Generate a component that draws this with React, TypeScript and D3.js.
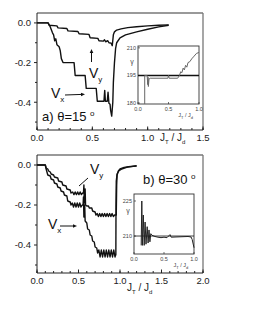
import React from 'react';
import * as d3 from 'd3';

type P = [number, number];

// ---- Panel a) theta = 15 deg ----
const topVy: P[] = [
  [0, 0], [0.10, 0], [0.11, -0.012], [0.18, -0.015], [0.19, -0.025], [0.27, -0.028], [0.28, -0.04],
  [0.37, -0.043], [0.38, -0.055], [0.47, -0.058], [0.48, -0.075], [0.55, -0.078], [0.56, -0.09],
  [0.60, -0.092], [0.61, -0.085], [0.62, -0.095], [0.64, -0.09], [0.65, -0.1], [0.67, -0.102],
  [0.68, -0.115], [0.69, -0.06], [0.70, -0.045], [0.72, -0.036], [0.76, -0.03], [0.82, -0.024],
  [0.9, -0.019], [1.0, -0.015], [1.1, -0.012], [1.19, -0.01],
];
const topVx: P[] = [
  [0, 0], [0.10, 0], [0.12, -0.02], [0.14, -0.05], [0.15, -0.06], [0.16, -0.09], [0.17, -0.08],
  [0.18, -0.11], [0.20, -0.12], [0.21, -0.14], [0.22, -0.18], [0.235, -0.2], [0.335, -0.2],
  [0.345, -0.265], [0.435, -0.265], [0.445, -0.33], [0.535, -0.33], [0.545, -0.395], [0.605, -0.395],
  [0.612, -0.34], [0.618, -0.395], [0.635, -0.395], [0.642, -0.35], [0.65, -0.405], [0.66, -0.41],
  [0.665, -0.44], [0.675, -0.47], [0.685, -0.40], [0.69, -0.3], [0.70, -0.2], [0.71, -0.13],
  [0.72, -0.1], [0.75, -0.075], [0.8, -0.06], [0.9, -0.045], [1.0, -0.032], [1.1, -0.02], [1.19, -0.012],
];
// inset a): gamma vs JT/Jd
const insetAGamma: P[] = [
  [0.11, 179.5], [0.11, 195], [0.15, 195], [0.16, 190], [0.165, 194], [0.17, 189], [0.18, 193],
  [0.2, 193.5], [0.49, 193.5], [0.5, 195], [0.51, 193.5], [0.65, 193.5], [0.68, 195], [0.70, 197],
  [0.72, 196.5], [0.74, 199], [0.76, 198], [0.78, 200.5], [0.8, 199.5], [0.82, 202], [0.85, 202.5],
  [0.88, 204], [0.92, 205.5], [0.96, 207], [1.0, 207.5],
];
const insetARef = 195;

// ---- Panel b) theta = 30 deg ----
const botVy: P[] = [
  [0, 0], [0.10, 0], [0.11, -0.015], [0.13, -0.02], [0.14, -0.03], [0.16, -0.035], [0.17, -0.045],
  [0.20, -0.05], [0.21, -0.06], [0.25, -0.065], [0.26, -0.08], [0.30, -0.085], [0.31, -0.1],
  [0.35, -0.105], [0.36, -0.12], [0.40, -0.125], [0.41, -0.14],
  [0.43, -0.135], [0.445, -0.148], [0.46, -0.135], [0.475, -0.148], [0.49, -0.135], [0.505, -0.148],
  [0.52, -0.135], [0.535, -0.148], [0.55, -0.14],
  [0.56, -0.14], [0.565, -0.10], [0.57, -0.19], [0.58, -0.12], [0.585, -0.2], [0.6, -0.205],
  [0.62, -0.205], [0.63, -0.215], [0.66, -0.215], [0.67, -0.23], [0.70, -0.235], [0.71, -0.25],
  [0.725, -0.243], [0.74, -0.258], [0.755, -0.243], [0.77, -0.258], [0.785, -0.243], [0.80, -0.258],
  [0.815, -0.243], [0.83, -0.258], [0.845, -0.243], [0.86, -0.258], [0.875, -0.243], [0.89, -0.258],
  [0.905, -0.243], [0.92, -0.258], [0.935, -0.25], [0.955, -0.25],
  [0.96, -0.1], [0.965, -0.05], [0.98, -0.03], [1.0, -0.02], [1.05, -0.012], [1.1, -0.008], [1.2, -0.005],
];
const botVx: P[] = [
  [0, 0], [0.10, 0], [0.11, -0.02], [0.12, -0.035], [0.13, -0.05], [0.16, -0.055], [0.17, -0.07],
  [0.20, -0.075], [0.21, -0.09], [0.24, -0.095], [0.25, -0.11], [0.28, -0.115], [0.29, -0.13],
  [0.32, -0.135], [0.33, -0.15], [0.36, -0.155], [0.37, -0.18], [0.40, -0.185], [0.41, -0.2],
  [0.425, -0.19], [0.44, -0.21], [0.455, -0.19], [0.47, -0.21], [0.485, -0.19], [0.5, -0.21],
  [0.515, -0.19], [0.53, -0.21], [0.545, -0.2],
  [0.555, -0.2], [0.56, -0.16], [0.565, -0.26], [0.575, -0.2], [0.58, -0.28], [0.6, -0.29],
  [0.61, -0.32], [0.63, -0.325], [0.64, -0.35], [0.66, -0.355], [0.67, -0.38], [0.69, -0.385],
  [0.70, -0.41], [0.72, -0.415], [0.73, -0.44],
  [0.745, -0.425], [0.76, -0.46], [0.775, -0.425], [0.79, -0.46], [0.805, -0.425], [0.82, -0.46],
  [0.835, -0.425], [0.85, -0.46], [0.865, -0.425], [0.88, -0.46], [0.895, -0.425], [0.91, -0.46],
  [0.925, -0.425], [0.94, -0.46], [0.945, -0.45],
  [0.95, -0.45], [0.952, -0.2], [0.955, -0.08], [0.965, -0.045], [0.985, -0.03], [1.02, -0.02],
  [1.08, -0.012], [1.2, -0.004],
];
// inset b)
const insetBGamma: P[] = [
  [0.12, 206], [0.13, 225], [0.14, 206], [0.155, 219], [0.17, 206], [0.185, 216], [0.2, 206.5],
  [0.22, 214], [0.235, 207], [0.25, 212.6], [0.265, 207.5], [0.28, 211], [0.3, 210.3], [0.35, 209.8],
  [0.4, 209.5], [0.45, 209.3], [0.5, 209.5], [0.55, 209.3], [0.6, 210.6], [0.62, 209.5], [0.7, 209.6],
  [0.8, 209.7], [0.9, 209.8], [0.95, 209.6], [0.97, 208.5], [1.0, 205],
];
const insetBRef = 210;

// ticks
const yMajorTicks = [0, -0.2, -0.4];
const yMajorLabels = ['0.0', '-0.2', '-0.4'];
const yMinorTicks = [-0.1, -0.3, -0.5];
const topXTicks = [0, 0.5, 1.0, 1.5];
const topXLabels = ['0.0', '0.5', '1.0', '1.5'];
const botXTicks = [0, 0.5, 1.0, 1.5, 2.0];
const botXLabels = ['0.0', '0.5', '1.0', '1.5', '2.0'];
const insetXTicks = [0, 0.5, 1.0];
const insetXLabels = ['0.0', '0.5', '1.0'];
const insetAYTicks = [180, 195, 210];
const insetBYTicks = [210, 225];

const FONT = 'Liberation Sans, Arial, Helvetica, sans-serif';

function MainPanel(props: {
  left: number; right: number; top: number; bottom: number; xMax: number;
  vx: P[]; vy: P[]; xTicks: number[]; xLabels: string[]; skipLabel?: number;
}) {
  const { left, right, top, bottom, xMax, vx, vy, xTicks, xLabels } = props;
  const x = d3.scaleLinear().domain([0, xMax]).range([left, right]);
  const y = d3.scaleLinear().domain([-0.54, 0.05]).range([bottom, top]);
  const line = d3.line<P>().x(d => x(d[0])).y(d => y(d[1]));
  const minorX = d3.range(0, xMax + 1e-6, 0.1);
  return (
    <g>
      <line x1={left} y1={top} x2={right} y2={top} stroke="#777" strokeWidth={1.3} />
      <line x1={right} y1={top} x2={right} y2={bottom} stroke="#777" strokeWidth={1.3} />
      <line x1={left} y1={top} x2={left} y2={bottom} stroke="#222" strokeWidth={1} />
      <line x1={left} y1={bottom} x2={right} y2={bottom} stroke="#222" strokeWidth={1} />
      {yMajorTicks.map((t, i) => (
        <g key={'ym' + i}>
          <line x1={left - 3} x2={left} y1={y(t)} y2={y(t)} stroke="#222" />
          <text x={left - 6} y={y(t) + 3.3} fontSize={9.5} textAnchor="end" fill="#222" fontFamily={FONT}>{yMajorLabels[i]}</text>
        </g>
      ))}
      {yMinorTicks.map((t, i) => (
        <line key={'yn' + i} x1={left - 2} x2={left} y1={y(t)} y2={y(t)} stroke="#222" />
      ))}
      {minorX.map((t, i) => (
        <line key={'xn' + i} x1={x(t)} x2={x(t)} y1={bottom} y2={bottom - 2} stroke="#222" />
      ))}
      {xTicks.map((t, i) => (
        <g key={'xm' + i}>
          <line x1={x(t)} x2={x(t)} y1={bottom} y2={bottom - 3.5} stroke="#222" />
          <text x={x(t)} y={bottom + 11} fontSize={9.5} textAnchor="middle" fill="#222" fontFamily={FONT}>{xLabels[i]}</text>
        </g>
      ))}
      <path d={line(vx) || ''} fill="none" stroke="#111" strokeWidth={1.4} strokeLinejoin="round" />
      <path d={line(vy) || ''} fill="none" stroke="#111" strokeWidth={1.4} strokeLinejoin="round" />
    </g>
  );
}

function Inset(props: {
  left: number; right: number; top: number; bottom: number; yDomain: [number, number];
  data: P[]; ref0: number; yTicks: number[]; refWidth: number; color: string;
}) {
  const { left, right, top, bottom, yDomain, data, ref0, yTicks, refWidth, color } = props;
  const x = d3.scaleLinear().domain([0, 1]).range([left, right]);
  const y = d3.scaleLinear().domain(yDomain).range([bottom, top]);
  const line = d3.line<P>().x(d => x(d[0])).y(d => y(d[1]));
  return (
    <g>
      <rect x={left} y={top} width={right - left} height={bottom - top} fill="white" stroke="#333" strokeWidth={0.9} />
      {yTicks.map((t, i) => (
        <g key={'iy' + i}>
          <line x1={left} x2={left + 2} y1={y(t)} y2={y(t)} stroke="#333" strokeWidth={0.7} />
          <text x={left - 2} y={y(t) + 2} fontSize={5.5} textAnchor="end" fill="#444" fontFamily={FONT}>{String(t)}</text>
        </g>
      ))}
      {insetXTicks.map((t, i) => (
        <g key={'ix' + i}>
          <line x1={x(t)} x2={x(t)} y1={bottom} y2={bottom - 2} stroke="#333" strokeWidth={0.7} />
          <text x={x(t)} y={bottom + 6.5} fontSize={5.5} textAnchor="middle" fill="#444" fontFamily={FONT}>{insetXLabels[i]}</text>
        </g>
      ))}
      <text x={left - 6} y={y((yDomain[0] + yDomain[1]) / 2 + (yDomain[1] - yDomain[0]) * 0.22) + 2} fontSize={7} textAnchor="middle" fill="#444" fontFamily={FONT}>γ</text>
      <text x={x(0.78)} y={bottom + 13} fontSize={5.5} textAnchor="middle" fill="#444" fontFamily={FONT}>
        J<tspan dy={1.5} fontSize={4}>T</tspan><tspan dy={-1.5}> / J</tspan><tspan dy={1.5} fontSize={4}>d</tspan>
      </text>
      <line x1={left} x2={right} y1={y(ref0)} y2={y(ref0)} stroke="#111" strokeWidth={refWidth} />
      <path d={line(data) || ''} fill="none" stroke={color} strokeWidth={1} />
    </g>
  );
}

function Arrow({ x1, y1, x2, y2 }: { x1: number; y1: number; x2: number; y2: number }) {
  const a = Math.atan2(y2 - y1, x2 - x1);
  const L = 4, W = 1.8;
  const bx = x2 - L * Math.cos(a), by = y2 - L * Math.sin(a);
  const px = -Math.sin(a) * W, py = Math.cos(a) * W;
  return (
    <g>
      <line x1={x1} y1={y1} x2={bx} y2={by} stroke="#111" strokeWidth={1} />
      <polygon points={`${x2},${y2} ${bx + px},${by + py} ${bx - px},${by - py}`} fill="#111" />
    </g>
  );
}

function VLabel({ x, y, sub }: { x: number; y: number; sub: string }) {
  return (
    <text x={x} y={y} fontSize={14} fill="#111" fontFamily={FONT}>
      V<tspan dy={4} fontSize={8}>{sub}</tspan>
    </text>
  );
}

export default function App() {
  return (
    <svg width={255} height={330} style={{ position: 'absolute', left: 0, top: 0, background: 'white' }}>
      <rect x={0} y={0} width={255} height={330} fill="white" />
      {/* Panel a */}
      <MainPanel left={37} right={203} top={13} bottom={130} xMax={1.5} vx={topVx} vy={topVy}
        xTicks={topXTicks} xLabels={topXLabels} />
      <Inset left={138} right={199} top={46} bottom={104} yDomain={[179.5, 211]} data={insetAGamma}
        ref0={insetARef} yTicks={insetAYTicks} refWidth={1.5} color="#666" />
      <text x={160} y={141} fontSize={10} fill="#222" fontFamily={FONT}>
        J<tspan dy={3} fontSize={6}>T</tspan><tspan dy={-3}> / J</tspan><tspan dy={3} fontSize={6}>d</tspan>
      </text>
      <VLabel x={89} y={78} sub="y" />
      <Arrow x1={91.5} y1={62} x2={91.5} y2={49} />
      <VLabel x={51} y={98} sub="x" />
      <Arrow x1={65} y1={95} x2={85} y2={94.3} />
      <text x={42} y={121} fontSize={13} fill="#111" fontFamily={FONT}>
        a) θ=15 <tspan dy={-5} fontSize={8}>o</tspan>
      </text>

      {/* Panel b */}
      <MainPanel left={37} right={203} top={155} bottom={273} xMax={2.0} vx={botVx} vy={botVy}
        xTicks={botXTicks} xLabels={botXLabels} />
      <Inset left={134} right={194} top={194} bottom={254} yDomain={[202.3, 228]} data={insetBGamma}
        ref0={insetBRef} yTicks={insetBYTicks} refWidth={0.8} color="#222" />
      <text x={127} y={291} fontSize={10} fill="#222" fontFamily={FONT}>
        J<tspan dy={3} fontSize={6}>T</tspan><tspan dy={-3}> / J</tspan><tspan dy={3} fontSize={6}>d</tspan>
      </text>
      <VLabel x={90} y={174} sub="y" />
      <line x1={88} y1={178} x2={79} y2={186} stroke="#111" strokeWidth={1} />
      <VLabel x={48} y={229} sub="x" />
      <Arrow x1={60} y1={226} x2={77} y2={226} />
      <text x={143} y={184} fontSize={13} fill="#111" fontFamily={FONT}>
        b) θ=30 <tspan dy={-5} fontSize={8}>o</tspan>
      </text>
    </svg>
  );
}
